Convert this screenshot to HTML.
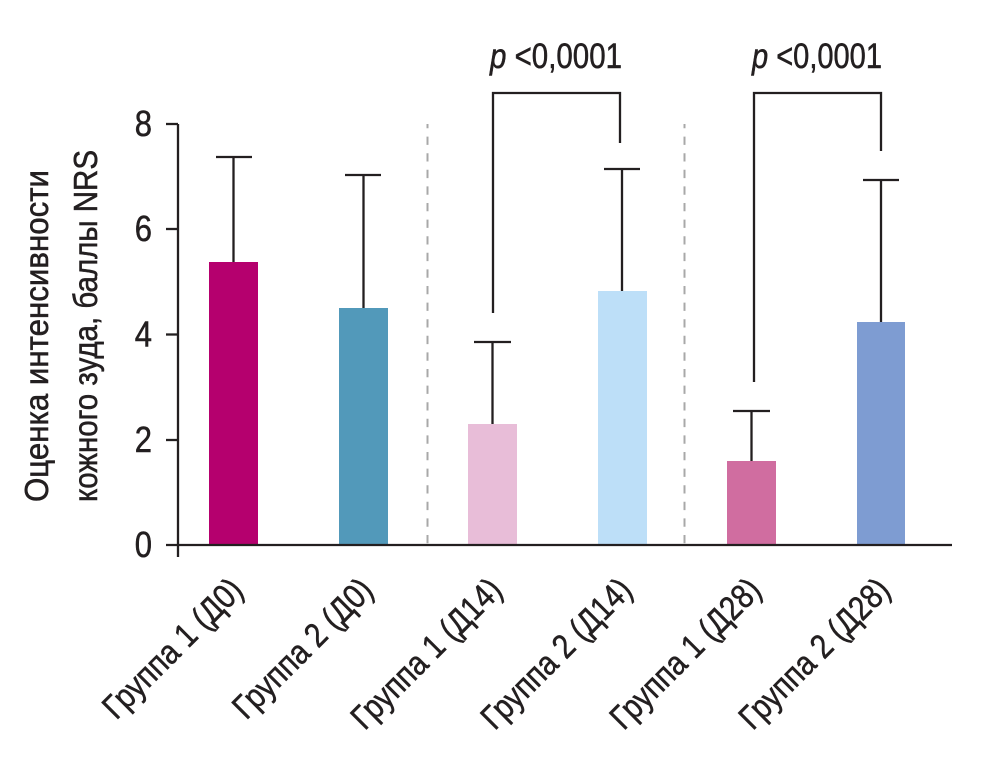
<!DOCTYPE html>
<html>
<head>
<meta charset="utf-8">
<style>
  html,body{margin:0;padding:0;background:#fff;}
  svg{display:block;}
  text{font-family:"Liberation Sans","DejaVu Sans",sans-serif;fill:#231f20;stroke:#231f20;stroke-width:0.55;}
</style>
</head>
<body>
<svg width="982" height="774" viewBox="0 0 982 774" xmlns="http://www.w3.org/2000/svg">
  <!-- dashed separators -->
  <line x1="427.5" y1="124" x2="427.5" y2="545" stroke="#a8a8a8" stroke-width="2" stroke-dasharray="8.3 8.3" stroke-dashoffset="4"/>
  <line x1="684.5" y1="124" x2="684.5" y2="545" stroke="#a8a8a8" stroke-width="2" stroke-dasharray="8.3 8.3" stroke-dashoffset="4"/>

  <!-- bars -->
  <rect x="209" y="262" width="49" height="283" fill="#b5006e"/>
  <rect x="339" y="308" width="49" height="237" fill="#5299ba"/>
  <rect x="468" y="424" width="49" height="121" fill="#e8bdd8"/>
  <rect x="598" y="291" width="49" height="254" fill="#bddff8"/>
  <rect x="727" y="461" width="49" height="84" fill="#d06da0"/>
  <rect x="857" y="322" width="48" height="223" fill="#7e9cd2"/>

  <!-- error bars -->
  <g stroke="#231f20" stroke-width="2.3" fill="none">
    <line x1="233.5" y1="262" x2="233.5" y2="157"/><line x1="216" y1="157" x2="252" y2="157"/>
    <line x1="363.5" y1="308" x2="363.5" y2="175"/><line x1="345" y1="175" x2="381" y2="175"/>
    <line x1="492.5" y1="424" x2="492.5" y2="342"/><line x1="474" y1="342" x2="511" y2="342"/>
    <line x1="622" y1="291" x2="622" y2="169"/><line x1="604" y1="169" x2="640" y2="169"/>
    <line x1="751.5" y1="461" x2="751.5" y2="411"/><line x1="733" y1="411" x2="770" y2="411"/>
    <line x1="881" y1="322" x2="881" y2="180"/><line x1="863" y1="180" x2="899" y2="180"/>
    <!-- significance brackets -->
    <polyline points="493,313 493,93 620,93 620,143"/>
    <polyline points="754,382 754,93 881,93 881,151"/>
  </g>

  <!-- axes -->
  <g stroke="#231f20" stroke-width="2.3" fill="none">
    <line x1="178" y1="124" x2="178" y2="557"/>
    <line x1="166" y1="545" x2="952" y2="545"/>
    <line x1="166" y1="124" x2="178" y2="124"/>
    <line x1="166" y1="229" x2="178" y2="229"/>
    <line x1="166" y1="334.5" x2="178" y2="334.5"/>
    <line x1="166" y1="440" x2="178" y2="440"/>
  </g>

  <!-- y tick labels -->
  <g font-size="36">
    <text transform="translate(152,136) scale(0.86,1)" text-anchor="end">8</text>
    <text transform="translate(152,241) scale(0.86,1)" text-anchor="end">6</text>
    <text transform="translate(152,346.5) scale(0.86,1)" text-anchor="end">4</text>
    <text transform="translate(152,452) scale(0.86,1)" text-anchor="end">2</text>
    <text transform="translate(152,557) scale(0.86,1)" text-anchor="end">0</text>
  </g>

  <!-- y axis title -->
  <text transform="translate(48,502) rotate(-90)" font-size="33" textLength="332" lengthAdjust="spacingAndGlyphs">Оценка интенсивности</text>
  <text transform="translate(97,502) rotate(-90)" font-size="33" textLength="352" lengthAdjust="spacingAndGlyphs">кожного зуда, баллы NRS</text>

  <!-- p-values -->
  <text x="490" y="68" font-size="35" textLength="132" lengthAdjust="spacingAndGlyphs"><tspan font-style="italic">p</tspan> &lt;0,0001</text>
  <text x="752" y="68" font-size="35" textLength="130" lengthAdjust="spacingAndGlyphs"><tspan font-style="italic">p</tspan> &lt;0,0001</text>

  <!-- category labels -->
  <g font-size="34" text-anchor="end">
    <text transform="translate(245,592) rotate(-45)" textLength="182" lengthAdjust="spacingAndGlyphs">Группа 1 (Д0)</text>
    <text transform="translate(375,592) rotate(-45)" textLength="182" lengthAdjust="spacingAndGlyphs">Группа 2 (Д0)</text>
    <text transform="translate(504,592) rotate(-45)" textLength="197" lengthAdjust="spacingAndGlyphs">Группа 1 (Д14)</text>
    <text transform="translate(634,592) rotate(-45)" textLength="197" lengthAdjust="spacingAndGlyphs">Группа 2 (Д14)</text>
    <text transform="translate(763,592) rotate(-45)" textLength="197" lengthAdjust="spacingAndGlyphs">Группа 1 (Д28)</text>
    <text transform="translate(892,592) rotate(-45)" textLength="197" lengthAdjust="spacingAndGlyphs">Группа 2 (Д28)</text>
  </g>
</svg>
</body>
</html>
